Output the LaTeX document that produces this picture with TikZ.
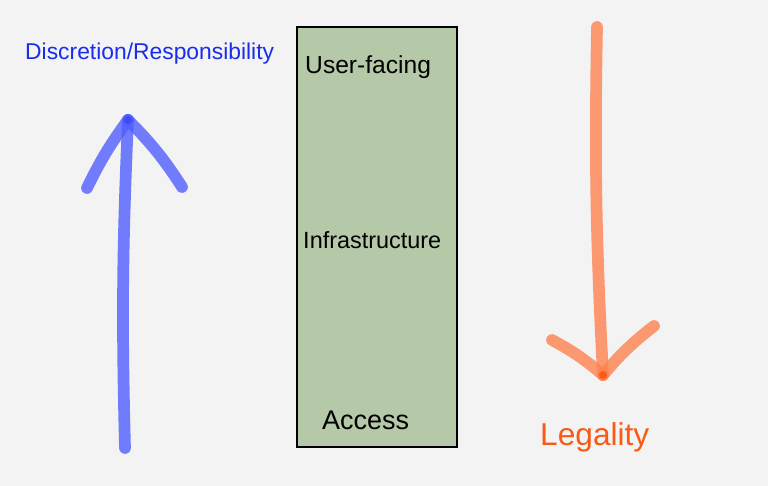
\documentclass[tikz,border=0pt]{standalone}
\usepackage{fontspec}
\setmainfont{Liberation Sans}
\usetikzlibrary{positioning}
\definecolor{paper}{RGB}{243,243,243}
\definecolor{layergreen}{RGB}{181,200,168}
\definecolor{penblue}{RGB}{80,95,255}
\definecolor{inkblue}{RGB}{25,45,235}
\definecolor{penorange}{RGB}{255,130,80}
\definecolor{inkorange}{RGB}{250,90,20}

\begin{document}
\begin{tikzpicture}[
      x=0.03cm, y=-0.03cm,
      layer/.style={draw=black, line width=1.2pt, fill=layergreen,
                    minimum width=4.8cm, minimum height=12.6cm, inner sep=0pt},
      lbl/.style={font=\fontsize{20}{24}\selectfont, inner sep=0pt},
      stroke/.style={line width=10pt, line cap=round, line join=round,
                     draw opacity=0.8},
    ]
    % --- paper ---
    \fill[paper] (0,0) rectangle (768,486);
    \useasboundingbox (0,0) rectangle (768,486);

    % --- layers box ---
    \node[layer] (stack) at (377,237) {};
    \node[lbl, anchor=west, font=\fontsize{21}{24}\selectfont] (user) at (305,67) {User-facing};
    \node[lbl, anchor=west] (infra) at (303,240) {Infrastructure};
    \node[lbl, anchor=west, font=\fontsize{23}{26}\selectfont] (access) at (322,420) {Access};

    % --- blue arrow (up) ---
    \coordinate (dbot) at (125,448);
    \coordinate (dtop) at (128,120);
    \coordinate (dleft) at (87,188);
    \coordinate (dright) at (182,187);
    \draw[stroke, penblue] (dbot) to[bend left=2] (dtop);
    \draw[stroke, penblue] (dleft) to[bend left=5] (dtop);
    \draw[stroke, penblue] (dtop) to[bend left=6] (dright);
    \fill[penblue!60!inkblue] (dtop) circle[radius=4];
    \node[lbl, text=inkblue, anchor=west, font=\fontsize{19.5}{24}\selectfont] (disc) at (25,54)
      {Discretion/Responsibility};

    % --- orange arrow (down) ---
    \coordinate (ltop) at (597,27);
    \coordinate (lbot) at (603,375);
    \coordinate (lleft) at (552,340);
    \coordinate (lright) at (654,326);
    \draw[stroke, penorange] (ltop) to[bend right=2] (lbot);
    \draw[stroke, penorange] (lleft) to[bend left=6] (lbot);
    \draw[stroke, penorange] (lright) to[bend right=6] (lbot);
    \fill[inkorange] (lbot) circle[radius=4];
    \node[lbl, text=inkorange, anchor=west, font=\fontsize{27}{30}\selectfont] (legal) at (540,437) {Legality};
  \end{tikzpicture}
\end{document}
